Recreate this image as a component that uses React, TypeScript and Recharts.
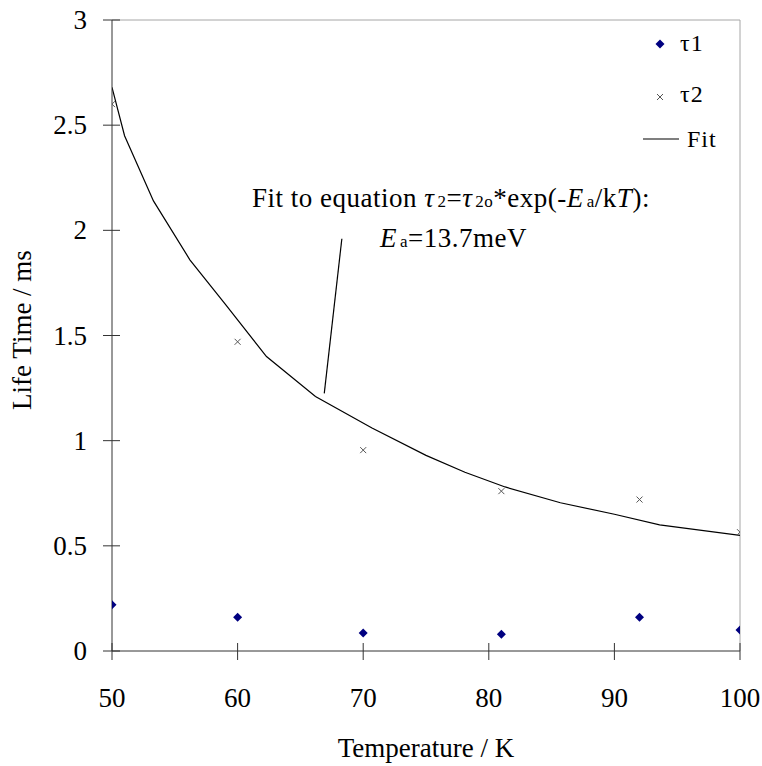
import React from "react";
import {
  ComposedChart,
  Customized,
  Line,
  ReferenceLine,
  Scatter,
  XAxis,
  YAxis,
} from "recharts";

const FONT = "'Liberation Serif', 'Times New Roman', serif";

const tempTicks = [50, 60, 70, 80, 90, 100];
const lifeTicks = [0, 0.5, 1, 1.5, 2, 2.5, 3];

// τ1 (diamonds) and τ2 (crosses)
const tau1Temps = [50, 60, 70, 81, 92, 100];
const tau1Values = [0.22, 0.16, 0.085, 0.08, 0.16, 0.1];
const tau2Temps = [50, 60, 70, 81, 92, 100];
const tau2Values = [2.6, 1.47, 0.955, 0.76, 0.72, 0.565];

// fitted curve
const fitTemps = [50, 51, 53.3, 56.2, 59, 62.3, 66.2, 70.7, 75, 78.1, 81.3, 85.7, 90, 93.6, 100];
const fitValues = [2.68, 2.45, 2.14, 1.86, 1.65, 1.4, 1.21, 1.06, 0.93, 0.85, 0.78, 0.705, 0.65, 0.6, 0.55];

// leader line from the annotation down to the curve
const leader = [
  { x: 68.3, y: 1.96 },
  { x: 66.9, y: 1.225 },
];

const tau1 = tau1Temps.map((x, i) => ({ x, y: tau1Values[i] }));
const tau2 = tau2Temps.map((x, i) => ({ x, y: tau2Values[i] }));
const fit = fitTemps.map((x, i) => ({ x, y: fitValues[i] }));

const AXIS = "#333";
const BORDER = "#a6a6a6";

const Diamond = ({ cx, cy }: any) => (
  <polygon
    points={`${cx},${cy - 4.5} ${cx + 4.5},${cy} ${cx},${cy + 4.5} ${cx - 4.5},${cy}`}
    fill="#000080"
  />
);

const Cross = ({ cx, cy }: any) => (
  <g stroke="#555" strokeWidth={1}>
    <line x1={cx - 3} y1={cy - 3} x2={cx + 3} y2={cy + 3} />
    <line x1={cx - 3} y1={cy + 3} x2={cx + 3} y2={cy - 3} />
  </g>
);

const YTick = ({ x, y, payload }: any) => (
  <g>
    <line x1={x - 9} x2={x + 8} y1={y} y2={y} stroke={AXIS} />
    <text x={x - 25} y={y + 9} textAnchor="end" fontSize={27} fontFamily={FONT} fill="#000">
      {payload.value}
    </text>
  </g>
);

const XTick = ({ x, y, payload }: any) => (
  <g>
    <line x1={x} x2={x} y1={y - 8} y2={y + 9} stroke={AXIS} />
    <text x={x} y={y + 56} textAnchor="middle" fontSize={27} fontFamily={FONT} fill="#000">
      {payload.value}
    </text>
  </g>
);

// legend, annotation and axis titles
const Texts = () => (
  <g fontFamily={FONT} fill="#000">
    <Diamond cx={660} cy={44} />
    <text x={680} y={51} fontSize={24} letterSpacing={1}>τ1</text>
    <Cross cx={660} cy={97} />
    <text x={680} y={102} fontSize={24} letterSpacing={1}>τ2</text>
    <line x1={643} x2={679} y1={139} y2={139} stroke="#000" strokeWidth={1.2} />
    <text x={687} y={147} fontSize={24} letterSpacing={1}>Fit</text>

    <text x={252} y={207} fontSize={27} letterSpacing={0.5}>
      Fit to equation{" "}
      <tspan fontStyle="italic">τ</tspan>
      <tspan fontSize={17} dx={3}>2</tspan>
      <tspan>=</tspan>
      <tspan fontStyle="italic">τ</tspan>
      <tspan fontSize={17} dx={3}>2o</tspan>
      <tspan>*exp(-</tspan>
      <tspan fontStyle="italic">E</tspan>
      <tspan fontSize={17} dx={3}>a</tspan>
      <tspan>/k</tspan>
      <tspan fontStyle="italic">T</tspan>
      <tspan>):</tspan>
    </text>
    <text x={380} y={247} fontSize={27} letterSpacing={0.5}>
      <tspan fontStyle="italic">E</tspan>
      <tspan fontSize={17} dx={3}>a</tspan>
      <tspan>=13.7meV</tspan>
    </text>
    <text x={426} y={757} fontSize={27} textAnchor="middle">
      Temperature / K
    </text>
    <text
      x={31}
      y={330}
      fontSize={27}
      textAnchor="middle"
      transform="rotate(-90 31 330)"
    >
      Life Time / ms
    </text>
  </g>
);

export default function App() {
  return (
    <div style={{ position: "absolute", left: 0, top: 0, background: "#fff" }}>
      <ComposedChart
        width={762}
        height={766}
        margin={{ top: 20, right: 22, bottom: 55, left: 32 }}
      >
        <XAxis
          type="number"
          dataKey="x"
          domain={[50, 100]}
          ticks={tempTicks}
          interval={0}
          height={60}
          tickSize={0}
          tickMargin={0}
          tickLine={false}
          axisLine={{ stroke: AXIS }}
          tick={<XTick />}
          allowDataOverflow
        />
        <YAxis
          type="number"
          dataKey="y"
          domain={[0, 3]}
          ticks={lifeTicks}
          interval={0}
          width={80}
          tickSize={0}
          tickMargin={0}
          tickLine={false}
          axisLine={{ stroke: AXIS }}
          tick={<YTick />}
          allowDataOverflow
        />
        <ReferenceLine y={3} stroke={BORDER} />
        <ReferenceLine x={100} stroke={BORDER} />
        <ReferenceLine segment={leader} stroke="#000" strokeWidth={1.2} />
        <Line
          data={fit}
          dataKey="y"
          type="linear"
          stroke="#000"
          strokeWidth={1.2}
          dot={false}
          activeDot={false}
          isAnimationActive={false}
          name="Fit"
        />
        <Scatter
          data={tau2}
          dataKey="y"
          name="τ2"
          shape={<Cross />}
          isAnimationActive={false}
        />
        <Scatter
          data={tau1}
          dataKey="y"
          name="τ1"
          shape={<Diamond />}
          isAnimationActive={false}
        />
        <Customized component={<Texts />} />
      </ComposedChart>
    </div>
  );
}
